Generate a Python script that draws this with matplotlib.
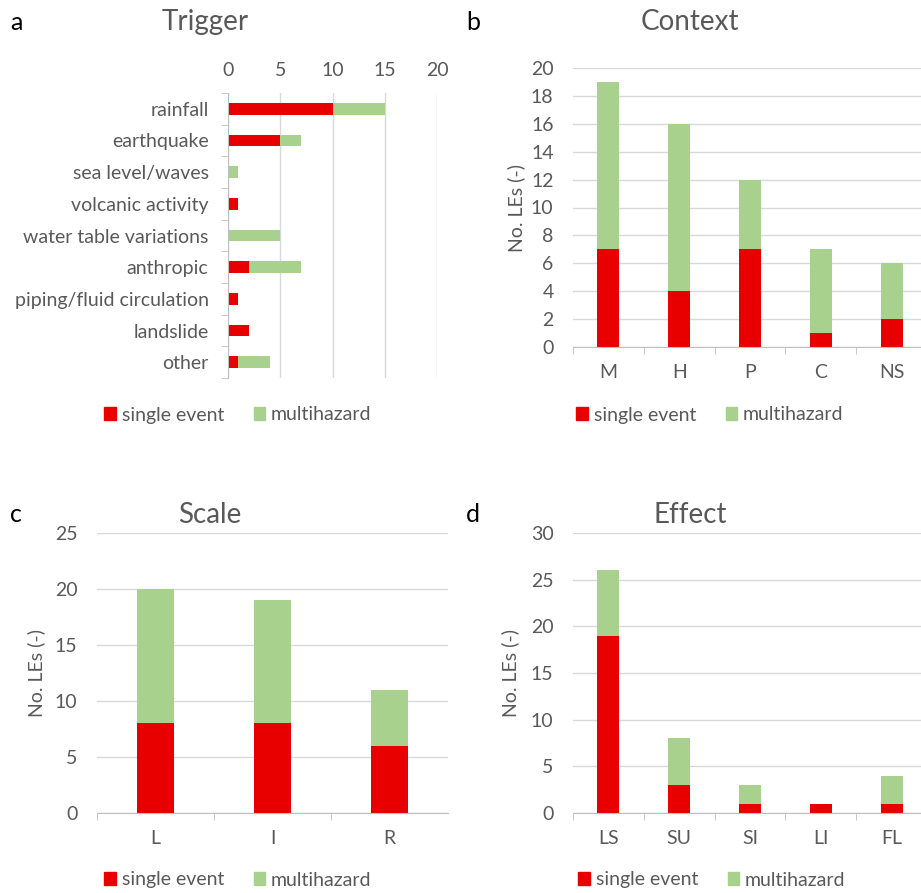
import numpy as np
import matplotlib.pyplot as plt
from matplotlib.patches import Patch

plt.rcParams['font.family'] = ['Lato', 'DejaVu Sans']

# Trigger counts
trig_cats = ['rainfall', 'earthquake', 'sea level/waves', 'volcanic activity',
             'water table variations', 'anthropic', 'piping/fluid circulation',
             'landslide', 'other']
trig_single = [10, 5, 0, 1, 0, 2, 1, 2, 1]
trig_multi = [5, 2, 1, 0, 5, 5, 0, 0, 3]

# Context counts
ctx_cats = ['M', 'H', 'P', 'C', 'NS']
ctx_single = [7, 4, 7, 1, 2]
ctx_multi = [12, 12, 5, 6, 4]

# Scale counts
scl_cats = ['L', 'I', 'R']
scl_single = [8, 8, 6]
scl_multi = [12, 11, 5]

# Effect counts
eff_cats = ['LS', 'SU', 'SI', 'LI', 'FL']
eff_single = [19, 3, 1, 1, 1]
eff_multi = [7, 5, 2, 0, 3]

RED = '#E80000'
GREEN = '#A9D18E'
GREY = '#595959'
GRID = '#D9D9D9'
AXIS = '#BFBFBF'
FS = 14

W, H = 921, 893
fig = plt.figure(figsize=(W / 100, H / 100), dpi=100)


def box(x0, y0, x1, y1):
    # pixel box (top-left origin) -> figure fraction
    return [x0 / W, 1 - y1 / H, (x1 - x0) / W, (y1 - y0) / H]


def legend(xc, yc):
    handles = [Patch(color=RED, label='single event'),
               Patch(color=GREEN, label='multihazard')]
    fig.legend(handles=handles, loc='center', bbox_to_anchor=(xc / W, 1 - yc / H),
               ncol=2, frameon=False, fontsize=FS, handlelength=0.6,
               handleheight=0.6, handletextpad=0.3, columnspacing=1.5,
               labelcolor=GREY)


def column_panel(rect, cats, single, multi, ymax, ystep, title, letter,
                 title_xy, letter_xy, ylab_x, legend_xy):
    ax = fig.add_axes(box(*rect))
    x = np.arange(len(cats))
    ax.bar(x, single, width=0.31, color=RED, zorder=3)
    ax.bar(x, multi, width=0.31, bottom=single, color=GREEN, zorder=3)
    ax.set_xlim(-0.5, len(cats) - 0.5)
    ax.set_ylim(0, ymax)
    ax.set_yticks(np.arange(0, ymax + 0.1, ystep))
    ax.set_xticks(x)
    ax.set_xticklabels(cats)
    ax.set_xticks(np.arange(len(cats)) - 0.5, minor=True)
    ax.tick_params(axis='x', which='major', length=0, pad=12, labelsize=FS,
                   labelcolor=GREY)
    ax.tick_params(axis='x', which='minor', length=5, color=AXIS, direction='out')
    ax.tick_params(axis='y', length=0, pad=14, labelsize=FS, labelcolor=GREY)
    ax.grid(axis='y', color=GRID, lw=1, zorder=0)
    for s in ['top', 'right', 'left']:
        ax.spines[s].set_visible(False)
    ax.spines['bottom'].set_color(AXIS)
    ax.spines['bottom'].set_zorder(4)
    fig.text(ylab_x / W, 1 - (rect[1] + rect[3]) / 2 / H, 'No. LEs (-)',
             rotation=90, ha='center', va='center', fontsize=FS, color=GREY)
    fig.text(title_xy[0] / W, 1 - title_xy[1] / H, title, ha='center',
             va='center', fontsize=20, color=GREY)
    fig.text(letter_xy[0] / W, 1 - letter_xy[1] / H, letter, ha='left',
             va='center', fontsize=18, color='black')
    legend(*legend_xy)
    return ax


# a: trigger, horizontal stacked bars with the value axis on top
ax = fig.add_axes(box(228, 93, 437, 378))
y = np.arange(len(trig_cats))
ax.barh(y, trig_single, height=0.36, color=RED, zorder=3)
ax.barh(y, trig_multi, height=0.36, left=trig_single, color=GREEN, zorder=3)
ax.set_xlim(0, 20)
ax.set_ylim(len(trig_cats) - 0.5, -0.5)
ax.set_xticks(np.arange(0, 21, 5))
ax.xaxis.tick_top()
ax.set_yticks(y)
ax.set_yticklabels(trig_cats)
ax.set_yticks(np.arange(len(trig_cats) + 1) - 0.5, minor=True)
ax.tick_params(axis='x', length=0, pad=10, labelsize=FS, labelcolor=GREY)
ax.tick_params(axis='y', which='major', length=0, pad=14, labelsize=FS,
               labelcolor=GREY)
ax.tick_params(axis='y', which='minor', length=5, color=AXIS, direction='out')
ax.grid(axis='x', color=GRID, lw=1, zorder=0)
for s in ['top', 'right', 'bottom']:
    ax.spines[s].set_visible(False)
ax.spines['left'].set_color(AXIS)
ax.spines['left'].set_zorder(4)
fig.text(205 / W, 1 - 22 / H, 'Trigger', ha='center', va='center', fontsize=20,
         color=GREY)
fig.text(10 / W, 1 - 22 / H, 'a', ha='left', va='center', fontsize=18,
         color='black')
legend(238, 415)

# b: context
column_panel((573, 68, 927, 347), ctx_cats, ctx_single, ctx_multi, 20, 2,
             'Context', 'b', (690, 22), (466, 22), 516, (710, 415))

# c: scale
column_panel((97, 533, 448, 813), scl_cats, scl_single, scl_multi, 25, 5,
             'Scale', 'c', (210, 515), (10, 515), 36, (238, 880))

# d: effect
column_panel((573, 533, 927, 813), eff_cats, eff_single, eff_multi, 30, 5,
             'Effect', 'd', (690, 515), (466, 515), 510, (712, 880))

fig.savefig('out.png', dpi=100)
